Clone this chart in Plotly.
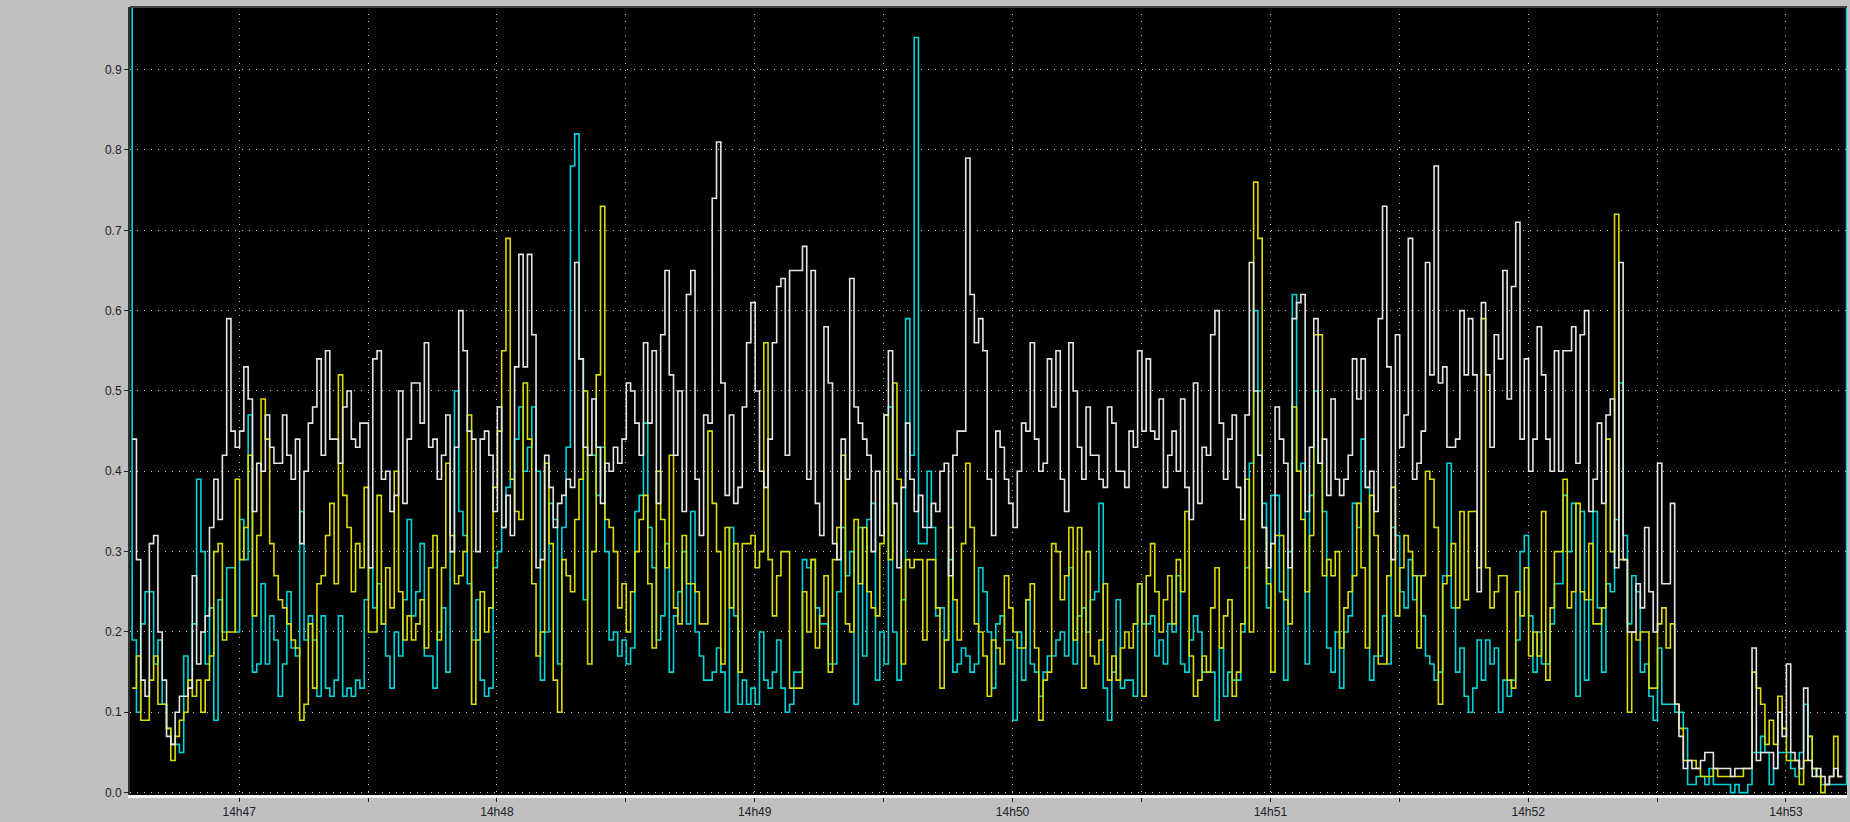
import plotly.graph_objects as go
from datetime import datetime, timedelta

# ---------------- data (1 sample per second) ----------------
white_a = [0.44,0.29,0.14,0.12,0.31,0.32,0.20,0.14,0.07,0.06,
           0.10,0.12,0.12,0.13,0.27,0.16,0.20,0.22,0.33,0.39,
           0.34,0.42,0.59,0.45,0.43,0.45,0.53,0.49,0.35,0.41,
           0.40,0.47,0.43,0.41,0.41,0.47,0.42,0.39,0.44,0.31,
           0.40,0.46,0.48,0.54,0.42,0.55,0.44,0.44,0.41,0.48,
           0.50,0.44,0.43,0.46,0.46,0.28,0.54,0.55,0.39,0.40,
           0.35,0.37,0.50,0.36,0.44,0.51]
white_b = [0.51,0.46,0.56,0.43,0.44,0.39,0.42,0.47,0.30,0.43,
           0.60,0.55,0.45,0.44,0.30,0.44,0.45,0.42,0.35,0.48,
           0.33,0.37,0.32,0.53,0.67,0.53,0.67,0.57,0.28,0.29,
           0.42,0.38,0.33,0.36,0.37,0.39,0.38,0.66,0.54,0.43,
           0.42,0.49,0.43,0.36,0.41,0.40,0.43,0.41,0.44,0.51,
           0.50,0.46,0.42,0.56,0.46,0.55,0.36,0.57,0.65,0.52,
           0.42,0.50,0.35,0.62,0.65,0.39,0.32]
white_c = [0.47,0.46,0.74,0.81,0.51,0.37,0.47,0.36,0.38,0.48,
           0.56,0.61,0.50,0.40,0.38,0.44,0.56,0.63,0.64,0.42,
           0.65,0.65,0.65,0.68,0.39,0.65,0.36,0.32,0.58,0.51,
           0.31,0.29,0.44,0.39,0.64,0.48,0.46,0.44,0.42,0.30,
           0.40,0.32,0.47,0.55,0.36,0.28,0.38,0.46,0.39,0.35,
           0.37,0.33,0.33,0.36,0.35,0.40,0.41,0.27,0.42,0.45,
           0.45,0.79,0.62,0.56,0.59,0.55,0.39]
white_d = [0.32,0.45,0.43,0.39,0.36,0.33,0.40,0.46,0.45,0.56,
           0.44,0.40,0.41,0.54,0.48,0.55,0.39,0.35,0.56,0.50,
           0.43,0.39,0.48,0.42,0.42,0.39,0.38,0.48,0.46,0.40,
           0.40,0.38,0.45,0.43,0.55,0.45,0.54,0.45,0.44,0.49,
           0.38,0.42,0.45,0.40,0.49,0.38,0.34,0.51,0.36,0.43,
           0.42,0.57,0.60,0.46,0.39,0.44,0.47,0.38,0.34,0.47,
           0.66,0.50,0.42,0.33,0.28,0.31]
white_e = [0.48,0.44,0.41,0.28,0.59,0.61,0.62,0.35,0.43,0.59,
           0.41,0.44,0.37,0.49,0.39,0.37,0.39,0.42,0.54,0.49,
           0.54,0.38,0.40,0.35,0.59,0.73,0.53,0.29,0.57,0.43,
           0.47,0.69,0.39,0.41,0.45,0.66,0.52,0.78,0.51,0.53,
           0.43,0.43,0.44,0.60,0.52,0.59,0.52,0.25,0.61,0.52,
           0.43,0.57,0.54,0.65,0.49,0.63,0.71,0.44,0.54,0.40,
           0.44,0.58,0.52,0.44,0.40,0.55]
white_f = [0.40,0.55,0.55,0.58,0.41,0.57,0.60,0.35,0.39,0.46,
           0.36,0.47,0.49,0.28,0.66,0.29,0.20,0.20,0.26,0.23,
           0.33,0.25,0.20,0.41,0.26,0.26,0.36,0.11,0.07,0.03,
           0.04,0.03,0.03,0.04,0.05,0.05,0.03,0.03,0.03,0.03,
           0.02,0.03,0.03,0.03,0.03,0.18,0.04,0.05,0.05,0.05,
           0.03,0.10,0.07,0.16,0.05,0.04,0.03,0.13,0.04,0.02,
           0.03,0.02,0.01,0.02,0.03,0.02,0.02]

yellow_a = [0.13,0.17,0.09,0.09,0.14,0.17,0.11,0.11,0.08,0.04,
            0.07,0.09,0.10,0.14,0.12,0.14,0.10,0.14,0.17,0.30,
            0.31,0.19,0.20,0.20,0.39,0.29,0.33,0.42,0.22,0.32,
            0.49,0.44,0.31,0.27,0.24,0.23,0.21,0.19,0.18,0.09,
            0.11,0.21,0.13,0.26,0.27,0.32,0.36,0.26,0.52,0.37,
            0.33,0.25,0.31,0.28,0.38,0.20,0.20,0.37,0.21,0.28,
            0.23,0.40,0.25,0.19,0.22,0.19]
yellow_b = [0.21,0.24,0.18,0.28,0.32,0.19,0.28,0.41,0.32,0.26,
            0.27,0.30,0.47,0.11,0.19,0.25,0.20,0.23,0.38,0.45,
            0.55,0.69,0.39,0.35,0.34,0.51,0.44,0.26,0.17,0.20,
            0.41,0.31,0.14,0.10,0.29,0.27,0.25,0.34,0.39,0.50,
            0.16,0.30,0.52,0.73,0.34,0.33,0.30,0.23,0.26,0.20,
            0.25,0.30,0.34,0.37,0.26,0.18,0.40,0.34,0.28,0.42,
            0.23,0.21,0.32,0.26,0.26,0.25,0.21]
yellow_c = [0.21,0.45,0.36,0.30,0.16,0.33,0.23,0.31,0.15,0.31,
            0.31,0.32,0.28,0.30,0.56,0.29,0.22,0.27,0.30,0.30,
            0.13,0.13,0.13,0.25,0.20,0.29,0.18,0.22,0.27,0.15,
            0.29,0.33,0.42,0.21,0.20,0.34,0.26,0.33,0.25,0.23,
            0.22,0.31,0.47,0.29,0.51,0.39,0.16,0.29,0.28,0.29,
            0.29,0.19,0.29,0.29,0.23,0.13,0.19,0.33,0.24,0.19,
            0.31,0.41,0.33,0.21,0.20,0.17,0.12]
yellow_d = [0.19,0.18,0.16,0.27,0.23,0.20,0.18,0.18,0.24,0.26,
            0.18,0.09,0.14,0.15,0.31,0.30,0.24,0.27,0.33,0.19,
            0.33,0.13,0.30,0.17,0.16,0.19,0.26,0.14,0.17,0.14,
            0.18,0.20,0.18,0.21,0.26,0.12,0.27,0.31,0.25,0.20,
            0.24,0.27,0.21,0.29,0.25,0.35,0.17,0.12,0.14,0.17,
            0.15,0.23,0.28,0.18,0.22,0.24,0.12,0.15,0.21,0.39,
            0.20,0.76,0.69,0.33,0.26,0.15]
yellow_e = [0.32,0.32,0.24,0.21,0.48,0.40,0.34,0.25,0.32,0.57,
            0.57,0.27,0.29,0.27,0.30,0.18,0.23,0.25,0.27,0.36,
            0.28,0.18,0.37,0.32,0.16,0.16,0.27,0.38,0.22,0.28,
            0.32,0.30,0.27,0.18,0.27,0.40,0.39,0.33,0.11,0.26,
            0.27,0.31,0.23,0.35,0.24,0.35,0.35,0.28,0.59,0.28,
            0.23,0.25,0.27,0.27,0.14,0.13,0.25,0.22,0.28,0.17,
            0.20,0.17,0.35,0.14,0.23,0.30]
yellow_f = [0.30,0.39,0.23,0.25,0.36,0.25,0.24,0.31,0.21,0.21,
            0.23,0.44,0.30,0.72,0.29,0.29,0.10,0.20,0.19,0.20,
            0.20,0.13,0.13,0.21,0.23,0.18,0.21,0.11,0.08,0.04,
            0.04,0.04,0.03,0.02,0.02,0.02,0.03,0.02,0.02,0.02,
            0.02,0.02,0.02,0.03,0.03,0.15,0.13,0.11,0.06,0.09,
            0.06,0.12,0.08,0.04,0.04,0.04,0.01,0.04,0.07,0.03,
            0.02,0.00,0.01,0.02,0.07,0.02,0.02]

cyan_a = [0.19,0.10,0.21,0.25,0.25,0.16,0.19,0.11,0.08,0.06,
          0.06,0.05,0.17,0.13,0.21,0.39,0.30,0.16,0.23,0.09,
          0.24,0.20,0.28,0.28,0.20,0.34,0.29,0.47,0.15,0.16,
          0.26,0.16,0.22,0.19,0.12,0.16,0.25,0.18,0.17,0.35,
          0.19,0.22,0.19,0.12,0.22,0.13,0.12,0.14,0.22,0.12,
          0.13,0.12,0.14,0.13,0.24,0.28,0.23,0.26,0.21,0.17,
          0.13,0.20,0.17,0.24,0.34,0.22]
cyan_b = [0.25,0.31,0.17,0.17,0.13,0.20,0.23,0.15,0.30,0.50,
          0.35,0.32,0.26,0.19,0.24,0.14,0.12,0.13,0.28,0.30,
          0.33,0.38,0.39,0.44,0.48,0.40,0.43,0.48,0.40,0.14,
          0.20,0.36,0.34,0.16,0.33,0.43,0.78,0.82,0.54,0.24,
          0.42,0.42,0.37,0.43,0.30,0.19,0.20,0.17,0.19,0.16,
          0.18,0.35,0.37,0.46,0.33,0.28,0.19,0.22,0.31,0.15,
          0.22,0.25,0.30,0.21,0.35,0.20,0.17]
cyan_c = [0.14,0.14,0.15,0.18,0.15,0.10,0.33,0.22,0.11,0.14,
          0.11,0.13,0.11,0.20,0.14,0.13,0.15,0.19,0.13,0.10,
          0.11,0.15,0.15,0.29,0.28,0.29,0.23,0.21,0.21,0.16,
          0.16,0.25,0.33,0.27,0.30,0.11,0.33,0.17,0.34,0.36,
          0.14,0.20,0.16,0.48,0.20,0.14,0.24,0.59,0.42,0.94,
          0.31,0.31,0.40,0.33,0.22,0.23,0.19,0.29,0.15,0.16,
          0.18,0.17,0.15,0.16,0.28,0.25,0.20]
cyan_d = [0.13,0.21,0.22,0.19,0.19,0.09,0.20,0.14,0.24,0.16,
          0.15,0.12,0.15,0.17,0.17,0.19,0.20,0.17,0.28,0.16,
          0.22,0.23,0.20,0.24,0.25,0.36,0.13,0.09,0.15,0.24,
          0.13,0.14,0.14,0.12,0.26,0.21,0.21,0.22,0.17,0.19,
          0.16,0.21,0.20,0.27,0.16,0.15,0.19,0.22,0.20,0.15,
          0.15,0.15,0.09,0.18,0.12,0.15,0.14,0.14,0.20,0.28,
          0.41,0.60,0.50,0.36,0.23,0.37]
cyan_e = [0.37,0.25,0.14,0.30,0.62,0.40,0.41,0.16,0.37,0.50,
          0.41,0.35,0.18,0.15,0.20,0.13,0.20,0.22,0.36,0.33,
          0.44,0.38,0.14,0.17,0.17,0.22,0.16,0.33,0.32,0.25,
          0.23,0.29,0.24,0.27,0.22,0.17,0.16,0.14,0.15,0.27,
          0.41,0.23,0.15,0.18,0.12,0.10,0.13,0.19,0.14,0.19,
          0.16,0.18,0.10,0.14,0.12,0.14,0.19,0.30,0.32,0.22,
          0.15,0.20,0.16,0.16,0.21,0.26]
cyan_f = [0.26,0.37,0.30,0.36,0.12,0.35,0.14,0.24,0.35,0.23,
          0.15,0.26,0.25,0.34,0.51,0.32,0.21,0.27,0.25,0.15,
          0.16,0.12,0.09,0.18,0.11,0.11,0.11,0.10,0.10,0.08,
          0.01,0.01,0.02,0.02,0.01,0.03,0.01,0.01,0.01,0.01,
          0.00,0.01,0.00,0.00,0.01,0.05,0.05,0.07,0.05,0.01,
          0.03,0.05,0.05,0.05,0.03,0.02,0.05,0.11,0.07,0.03,
          0.02,0.01,0.01,0.01,0.01,0.01,0.01]
cyan_off_scale = 1.5   # cyan value beyond the top of the scale at both ends

white = white_a + white_b + white_c + white_d + white_e + white_f
yellow = yellow_a + yellow_b + yellow_c + yellow_d + yellow_e + yellow_f
cyan = cyan_a + cyan_b + cyan_c + cyan_d + cyan_e + cyan_f

minute_labels = ["14h47", "14h48", "14h49", "14h50", "14h51", "14h52", "14h53"]
y_ticks = [0.0, 0.1, 0.2, 0.3, 0.4, 0.5, 0.6, 0.7, 0.8, 0.9]

# ---------------- time base ----------------
day = datetime(2024, 1, 1)
start = day + timedelta(hours=14, minutes=46, seconds=35.1)
times = [start + timedelta(seconds=i) for i in range(len(white))]
cyan_x = [start - timedelta(seconds=1)] + times + [start + timedelta(seconds=len(cyan))]
cyan_y = [cyan_off_scale] + cyan + [cyan_off_scale]

tickvals, ticktext = [], []
for lab in minute_labels:
    h, m = lab.split("h")
    t = day + timedelta(hours=int(h), minutes=int(m))
    tickvals += [t - timedelta(seconds=30), t]
    ticktext += ["", lab]
tickvals.append(tickvals[-1] + timedelta(seconds=30))
ticktext.append("")

x_range = [day + timedelta(hours=14, minutes=46, seconds=34.6),
           day + timedelta(hours=14, minutes=53, seconds=14.2)]

fig = go.Figure()
fig.add_trace(go.Scatter(x=cyan_x, y=cyan_y, mode="lines", line_shape="hv",
                         line=dict(color="#00d4d8", width=1.6), name="cyan"))
fig.add_trace(go.Scatter(x=times, y=yellow, mode="lines", line_shape="hv",
                         line=dict(color="#dcdc00", width=1.6), name="yellow"))
fig.add_trace(go.Scatter(x=times, y=white, mode="lines", line_shape="hv",
                         line=dict(color="#e4e4e4", width=1.6), name="white"))

font = dict(family="Liberation Sans, Arial, sans-serif", size=12, color="#202028")
fig.update_layout(
    width=1850, height=822, autosize=False,
    paper_bgcolor="#c0c0c0", plot_bgcolor="#000000",
    margin=dict(l=130, r=3, t=7, b=23),
    showlegend=False, font=font,
    xaxis=dict(type="date", range=x_range, tickvals=tickvals, ticktext=ticktext,
               showgrid=True, gridcolor="#c8c8c8", gridwidth=1, griddash="1px,6px",
               ticks="outside", ticklen=4, tickcolor="#202020",
               showline=True, linecolor="#f4f4f4", linewidth=3,
               zeroline=False, tickfont=font, fixedrange=True),
    yaxis=dict(range=[-0.003, 0.978], tickvals=y_ticks,
               ticktext=[f"{v:.1f}" for v in y_ticks],
               showgrid=True, gridcolor="#c8c8c8", gridwidth=1, griddash="1px,6px",
               ticks="outside", ticklen=4, tickcolor="#202020",
               showline=True, linecolor="#303030", linewidth=2,
               zeroline=False, tickfont=font, fixedrange=True),
    shapes=[dict(type="line", xref="paper", yref="paper", x0=0, x1=1, y0=1, y1=1,
                 line=dict(color="#404040", width=2))],
)

fig.write_html("out.html", config={"displayModeBar": False},
               post_script="document.body.style.margin='0';document.body.style.overflow='hidden';")
